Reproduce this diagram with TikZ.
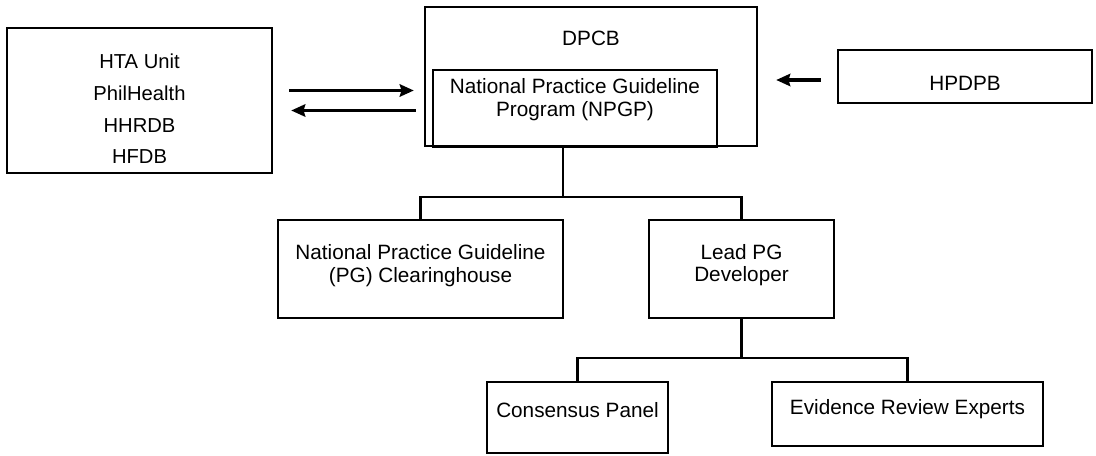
\documentclass[tikz,border=0pt]{standalone}
\usepackage{fontspec}
\setmainfont{Liberation Sans}
\usepackage{tikz}
\usetikzlibrary{
  arrows.meta,
  positioning
}
\tikzset{
  orgbox/.style={draw, line width=1.4pt, align=center, inner sep=0pt},
  arr/.style={-{Stealth[length=8pt, width=7pt, inset=1pt]}, line width=2.2pt},
  link/.style={line width=1.4pt},
}

\begin{document}
\begin{tikzpicture}[
  x=0.02cm, y=-0.02cm,
  font=\fontsize{11.8}{12.8}\selectfont
]
  \useasboundingbox (0,0) rectangle (1096,456);
  % top row
  \node[orgbox, minimum width=5.30cm, minimum height=2.90cm,
    font=\fontsize{11.5}{18.2}\selectfont, text height=2.54cm, text depth=0pt] (hta) at (139.5,100.5)
    {HTA Unit\\PhilHealth\\HHRDB\\HFDB};
  \node[orgbox, minimum width=6.64cm, minimum height=2.78cm,
    label={[anchor=center, yshift=-0.66cm]north:DPCB}] (dpcb) at (591,76.5) {};
  \node[orgbox, minimum width=5.68cm, minimum height=1.54cm, text depth=0.45cm] (npgp) at (575,108.5)
    {National Practice Guideline\\Program (NPGP)};
  \node[orgbox, minimum width=5.08cm, minimum height=1.06cm, text height=0.55cm] (hpdpb) at (965,76.5)
    {HPDPB};
  % second row
  \node[orgbox, minimum width=5.70cm, minimum height=1.96cm, text depth=0.22cm] (npgc) at (420.5,269)
    {National Practice Guideline\\(PG) Clearinghouse};
  \node[orgbox, minimum width=3.70cm, minimum height=1.96cm, text depth=0.24cm] (lead) at (741.5,269)
    {Lead PG\\Developer};
  % third row
  \node[orgbox, minimum width=3.62cm, minimum height=1.42cm, text depth=0.30cm] (consensus) at (577.5,417.5)
    {Consensus Panel};
  \node[orgbox, minimum width=5.42cm, minimum height=1.28cm, text depth=0.28cm] (ere) at (907.5,414)
    {Evidence Review Experts};

  \draw[arr, shorten <=0.32cm, shorten >=0.2cm]
    ([yshift=0.2cm]hta.east) -- ([yshift=0.2cm]hta.east -| dpcb.west);
  \draw[arr, shorten <=0.16cm, shorten >=0.36cm]
    ([yshift=-0.2cm]hta.east -| dpcb.west) -- ([yshift=-0.2cm]hta.east);
  \draw[arr, shorten <=0.32cm, shorten >=0.36cm]
    ([yshift=-0.07cm]hpdpb.west) -- ([yshift=-0.07cm]hpdpb.west -| dpcb.east);

  \coordinate (bar1) at ([yshift=0.44cm]npgc.north);
  \draw[link] ([xshift=-0.24cm]npgp.south) -- ([xshift=-0.24cm]npgp.south |- bar1);
  \draw[link] (npgc.north) -- (bar1) -| (lead.north);

  \coordinate (bar2) at ([yshift=0.46cm]consensus.north);
  \draw[link] (lead.south) -- (lead.south |- bar2);
  \draw[link] (consensus.north) -- (bar2) -| (ere.north);
\end{tikzpicture}
\end{document}
